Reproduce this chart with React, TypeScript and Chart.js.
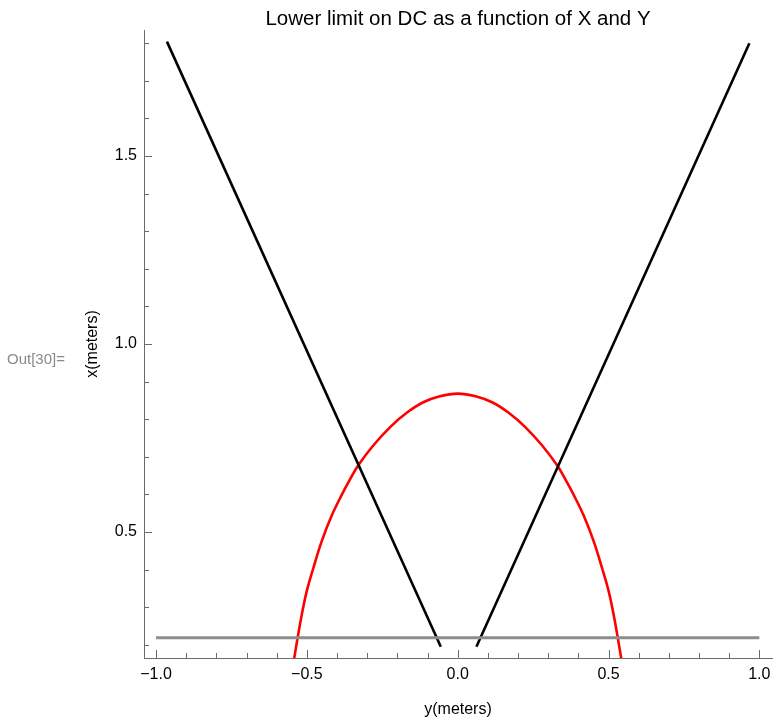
import React, { useEffect, useRef } from "react";
import { Chart, registerables } from "chart.js";

Chart.register(...registerables);

// ---- Text ----
const TITLE = "Lower limit on DC as a function of X and Y";
const H_AXIS_TITLE = "y(meters)";
const V_AXIS_TITLE = "x(meters)";
const OUT_LABEL = "Out[30]=";

// ---- Ticks ----
const hMajorTicks = [-1.0, -0.5, 0.0, 0.5, 1.0];
const hMinorTicks = [-0.9, -0.8, -0.7, -0.6, -0.4, -0.3, -0.2, -0.1, 0.1, 0.2, 0.3, 0.4, 0.6, 0.7, 0.8, 0.9];
const vMajorTicks = [0.5, 1.0, 1.5];
const vMinorTicks = [0.2, 0.3, 0.4, 0.6, 0.7, 0.8, 0.9, 1.1, 1.2, 1.3, 1.4, 1.6, 1.7, 1.8];

// ---- Data (horizontal = y meters, vertical = x meters) ----
const leftLineY = [-0.964, -0.056];
const leftLineX = [1.804, 0.195];
const rightLineY = [0.062, 0.967];
const rightLineX = [0.195, 1.8];
const floorLineY = [-1.0, 1.0];
const floorLineX = [0.219, 0.219];
const limitCurveY = [
  -0.545, -0.53, -0.517, -0.5, -0.479, -0.451, -0.418, -0.385, -0.357, -0.329, -0.28, -0.224, -0.169, -0.114, -0.059, 0.0,
  0.059, 0.114, 0.169, 0.224, 0.28, 0.329, 0.357, 0.385, 0.418, 0.451, 0.479, 0.5, 0.517, 0.53, 0.545,
];
const limitCurveX = [
  0.15, 0.222, 0.28, 0.344, 0.403, 0.475, 0.543, 0.598, 0.64, 0.678, 0.73, 0.779, 0.817, 0.845, 0.861, 0.868,
  0.861, 0.845, 0.817, 0.779, 0.73, 0.678, 0.64, 0.598, 0.543, 0.475, 0.403, 0.344, 0.28, 0.222, 0.15,
];

const FONT = "'Liberation Sans', Arial, sans-serif";
const AXIS_COLOR = "#6b6b6b";

const zip = (xs: number[], ys: number[]) => xs.map((x, i) => ({ x, y: ys[i] }));
const fmt = (v: number) => (v < 0 ? "\u2212" : "") + Math.abs(v).toFixed(1);

const innerTicksPlugin = {
  id: "innerTicks",
  beforeDatasetsDraw(chart: any) {
    const { ctx, chartArea, scales } = chart;
    const xs = scales.x;
    const ys = scales.y;
    ctx.save();
    ctx.strokeStyle = AXIS_COLOR;
    ctx.lineWidth = 1;
    ctx.beginPath();
    const b = chartArea.bottom;
    const l = chartArea.left;
    const drawH = (vals: number[], len: number) => {
      vals.forEach((v) => {
        const p = Math.round(xs.getPixelForValue(v)) + 0.5;
        ctx.moveTo(p, b);
        ctx.lineTo(p, b - len);
      });
    };
    const drawV = (vals: number[], len: number) => {
      vals.forEach((v) => {
        const p = Math.round(ys.getPixelForValue(v)) + 0.5;
        ctx.moveTo(l, p);
        ctx.lineTo(l + len, p);
      });
    };
    drawH(hMajorTicks, 8);
    drawH(hMinorTicks, 5);
    drawV(vMajorTicks, 8);
    drawV(vMinorTicks, 5);
    ctx.stroke();
    ctx.restore();
  },
};

const outLabelPlugin = {
  id: "outLabel",
  afterDraw(chart: any) {
    const { ctx } = chart;
    ctx.save();
    ctx.font = `15px ${FONT}`;
    ctx.fillStyle = "#8a8a8a";
    ctx.textBaseline = "middle";
    ctx.textAlign = "left";
    ctx.fillText(OUT_LABEL, 7, 360);
    ctx.restore();
  },
};

export default function App() {
  const ref = useRef<HTMLCanvasElement | null>(null);

  useEffect(() => {
    if (!ref.current) return;
    const chart = new Chart(ref.current, {
      type: "scatter",
      data: {
        datasets: [
          {
            data: zip(floorLineY, floorLineX),
            showLine: true,
            borderColor: "#8c8c8c",
            borderWidth: 3,
            pointRadius: 0,
          },
          {
            data: zip(leftLineY, leftLineX),
            showLine: true,
            borderColor: "#000000",
            borderWidth: 2.6,
            pointRadius: 0,
          },
          {
            data: zip(rightLineY, rightLineX),
            showLine: true,
            borderColor: "#000000",
            borderWidth: 2.6,
            pointRadius: 0,
          },
          {
            data: zip(limitCurveY, limitCurveX),
            showLine: true,
            borderColor: "#ff0000",
            borderWidth: 2.6,
            pointRadius: 0,
            tension: 0.4,
            clip: 0,
          } as any,
        ],
      },
      options: {
        animation: false,
        responsive: false,
        events: [],
        layout: { padding: { left: 0, right: 1, top: 0, bottom: 0 }, autoPadding: false } as any,
        plugins: {
          legend: { display: false },
          tooltip: { enabled: false },
          title: {
            display: true,
            text: TITLE,
            color: "#000",
            fullSize: false,
            font: { family: FONT, size: 20.5, weight: "normal", lineHeight: 1.2 },
            padding: { top: 7, bottom: -1.6 },
          },
        },
        scales: {
          x: {
            type: "linear",
            min: -1.04,
            max: 1.042,
            grid: { display: false, drawTicks: false },
            border: { display: true, color: AXIS_COLOR, width: 1 },
            ticks: {
              color: "#000",
              font: { family: FONT, size: 16 },
              padding: 7,
              maxRotation: 0,
              autoSkip: false,
              callback: (v: any) => fmt(Number(v)),
            },
            afterBuildTicks: (s: any) => {
              s.ticks = hMajorTicks.map((value) => ({ value }));
            },
            afterFit: (s: any) => {
              s.height = 61;
              s.paddingLeft = 0;
              s.paddingRight = 0;
              s.paddingTop = 0;
              s.paddingBottom = 0;
            },
            title: {
              display: true,
              text: H_AXIS_TITLE,
              color: "#000",
              font: { family: FONT, size: 16 },
              padding: { top: 0, bottom: 0 },
            },
          },
          y: {
            type: "linear",
            min: 0.165,
            max: 1.835,
            grid: { display: false, drawTicks: false },
            border: { display: true, color: AXIS_COLOR, width: 1 },
            ticks: {
              color: "#000",
              font: { family: FONT, size: 16 },
              padding: 7,
              autoSkip: false,
              callback: (v: any) => fmt(Number(v)),
            },
            afterBuildTicks: (s: any) => {
              s.ticks = vMajorTicks.map((value) => ({ value }));
            },
            afterFit: (s: any) => {
              s.width = 144;
              s.paddingLeft = 0;
              s.paddingRight = 0;
              s.paddingTop = 0;
              s.paddingBottom = 0;
            },
            title: {
              display: true,
              text: V_AXIS_TITLE,
              color: "#000",
              font: { family: FONT, size: 16 },
              padding: { top: 83, bottom: 0 },
            },
          },
        },
      },
      plugins: [innerTicksPlugin, outLabelPlugin],
    });
    return () => chart.destroy();
  }, []);

  return (
    <div style={{ position: "absolute", left: 0, top: 0, width: 773, height: 719, background: "#fff" }}>
      <canvas ref={ref} width={773} height={719} style={{ display: "block" }} />
    </div>
  );
}
